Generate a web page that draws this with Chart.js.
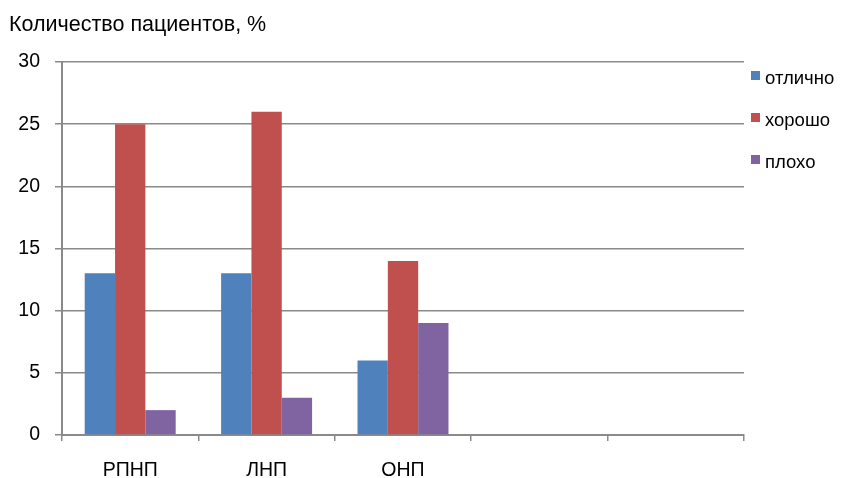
<!DOCTYPE html>
<html>
<head>
<meta charset="utf-8">
<script src="https://cdn.jsdelivr.net/npm/chart.js@4"></script>
<style>
html,body{margin:0;padding:0;background:#fff;}
#wrap{width:847px;height:478px;position:relative;}
</style>
</head>
<body>
<div id="wrap"><canvas id="c" width="847" height="478"></canvas></div>
<script>
const categories = ["РПНП", "ЛНП", "ОНП", "", ""];
const excellent = [13, 13, 6, null, null];
const good = [25, 26, 14, null, null];
const poor = [2, 3, 9, null, null];
const seriesNames = ["отлично", "хорошо", "плохо"];
const seriesColors = ["#4F81BD", "#C0504D", "#8064A2"];
const yTicks = [0, 5, 10, 15, 20, 25, 30];
const titleText = "Количество пациентов, %";

const FONT = "'Liberation Sans', Arial, sans-serif";
const GRID = "#8a8a8a";

const overlay = {
  id: 'overlay',
  afterDraw(chart) {
    const ctx = chart.ctx;
    ctx.save();
    ctx.fillStyle = '#000';
    ctx.font = "21.5px " + FONT;
    ctx.textBaseline = 'alphabetic';
    ctx.textAlign = 'left';
    ctx.fillText(titleText, 9, 31);
    // legend
    ctx.font = "18.5px " + FONT;
    chart.data.datasets.forEach((ds, i) => {
      const base = 84 + i * 42;
      ctx.fillStyle = ds.backgroundColor;
      ctx.fillRect(751, base - 13, 9, 9);
      ctx.fillStyle = '#000';
      ctx.fillText(ds.label, 765, base);
    });
    ctx.restore();
  }
};

new Chart(document.getElementById('c'), {
  type: 'bar',
  data: {
    labels: categories,
    datasets: [
      { label: seriesNames[0], data: excellent, backgroundColor: seriesColors[0] },
      { label: seriesNames[1], data: good, backgroundColor: seriesColors[1] },
      { label: seriesNames[2], data: poor, backgroundColor: seriesColors[2] }
    ]
  },
  options: {
    responsive: false,
    animation: false,
    devicePixelRatio: 1,
    layout: { padding: { top: 62, right: 103, left: 0, bottom: 0 } },
    plugins: { legend: { display: false }, title: { display: false }, tooltip: { enabled: false } },
    datasets: { bar: { barPercentage: 1, categoryPercentage: 0.667, borderWidth: 0 } },
    scales: {
      x: {
        grid: { offset: true, drawOnChartArea: false, drawTicks: true, tickLength: 6, color: GRID, lineWidth: 1.5 },
        border: { display: true, color: GRID, width: 2 },
        ticks: { color: '#000', font: { family: FONT, size: 19.5 }, padding: 18, maxRotation: 0, autoSkip: false },
        afterFit(scale) { scale.height = 43; }
      },
      y: {
        min: 0, max: 30,
        afterBuildTicks(scale) { scale.ticks = yTicks.map(v => ({ value: v })); },
        grid: { color: GRID, lineWidth: 1.5, drawTicks: true, tickLength: 7 },
        border: { display: true, color: GRID, width: 2 },
        ticks: { color: '#000', font: { family: FONT, size: 19.5 }, padding: 15 },
        afterFit(scale) { scale.width = 62; }
      }
    }
  },
  plugins: [overlay]
});
</script>
</body>
</html>
